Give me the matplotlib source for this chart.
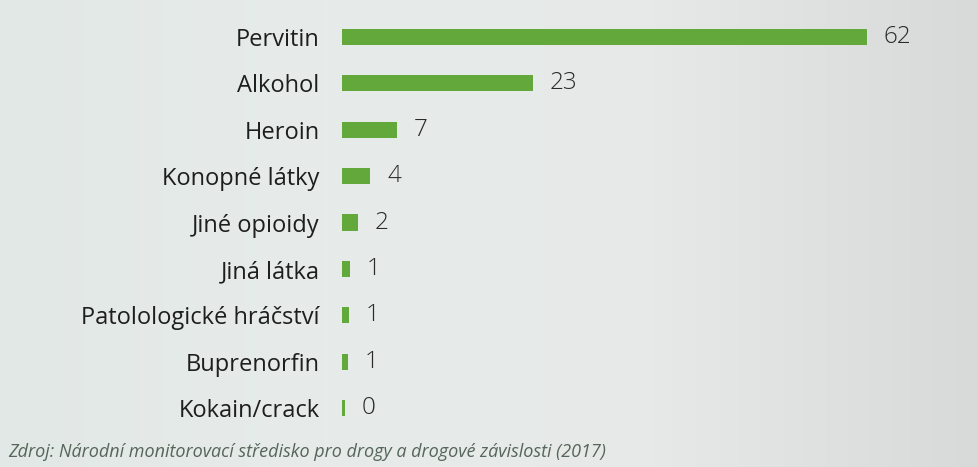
import numpy as np
import matplotlib.pyplot as plt
from matplotlib.colors import LinearSegmentedColormap

# Data
kategorie = ["Pervitin", "Alkohol", "Heroin", "Konopné látky", "Jiné opioidy",
             "Jiná látka", "Patolologické hráčství", "Buprenorfin", "Kokain/crack"]
popisky = [62, 23, 7, 4, 2, 1, 1, 1, 0]
# odhad skutecne delky sloupcu (popisky jsou zaokrouhlene)
hodnoty = [62, 22.6, 6.5, 3.4, 1.9, 1.0, 0.9, 0.8, 0.4]

plt.rcParams['font.family'] = ['Open Sans', 'DejaVu Sans']

fig = plt.figure(figsize=(9.79, 4.67), dpi=100)

# pozadi - jemny prechod jako na fotce
bg = fig.add_axes([0, 0, 1, 1])
grad = np.linspace(0, 1, 256).reshape(1, -1)
cmap = LinearSegmentedColormap.from_list('bg', ['#e2e8e5', '#e7ecea', '#e6e9e8', '#d8dad9'])
bg.imshow(grad, aspect='auto', cmap=cmap, extent=(0, 1, 0, 1))
bg.axis('off')

ax = fig.add_axes([0.349, 0.0, 0.651, 1.0])
ax.set_facecolor('none')

y = np.arange(len(kategorie))
ax.barh(y, hodnoty, height=0.35, color='#62a83a')

for yi, v, lab in zip(y, hodnoty, popisky):
    ax.annotate(str(lab), (v, yi), xytext=(12, 0), textcoords='offset points',
                va='center', ha='left', fontsize=17.5, color='#2a2a2a',
                fontweight='light')

ax.set_xlim(0, 75.2)
ax.set_ylim(9.272, -0.798)
ax.set_yticks(y)
ax.set_yticklabels(kategorie, fontsize=17, color='#1e1e1e')
ax.tick_params(axis='y', length=0, pad=16)
ax.set_xticks([])
for s in ax.spines.values():
    s.set_visible(False)

fig.text(0.008, 0.022,
         "Zdroj: Národní monitorovací středisko pro drogy a drogové závislosti (2017)",
         fontsize=13, style='italic', color='#55655a')

fig.savefig("out.png", dpi=100)
